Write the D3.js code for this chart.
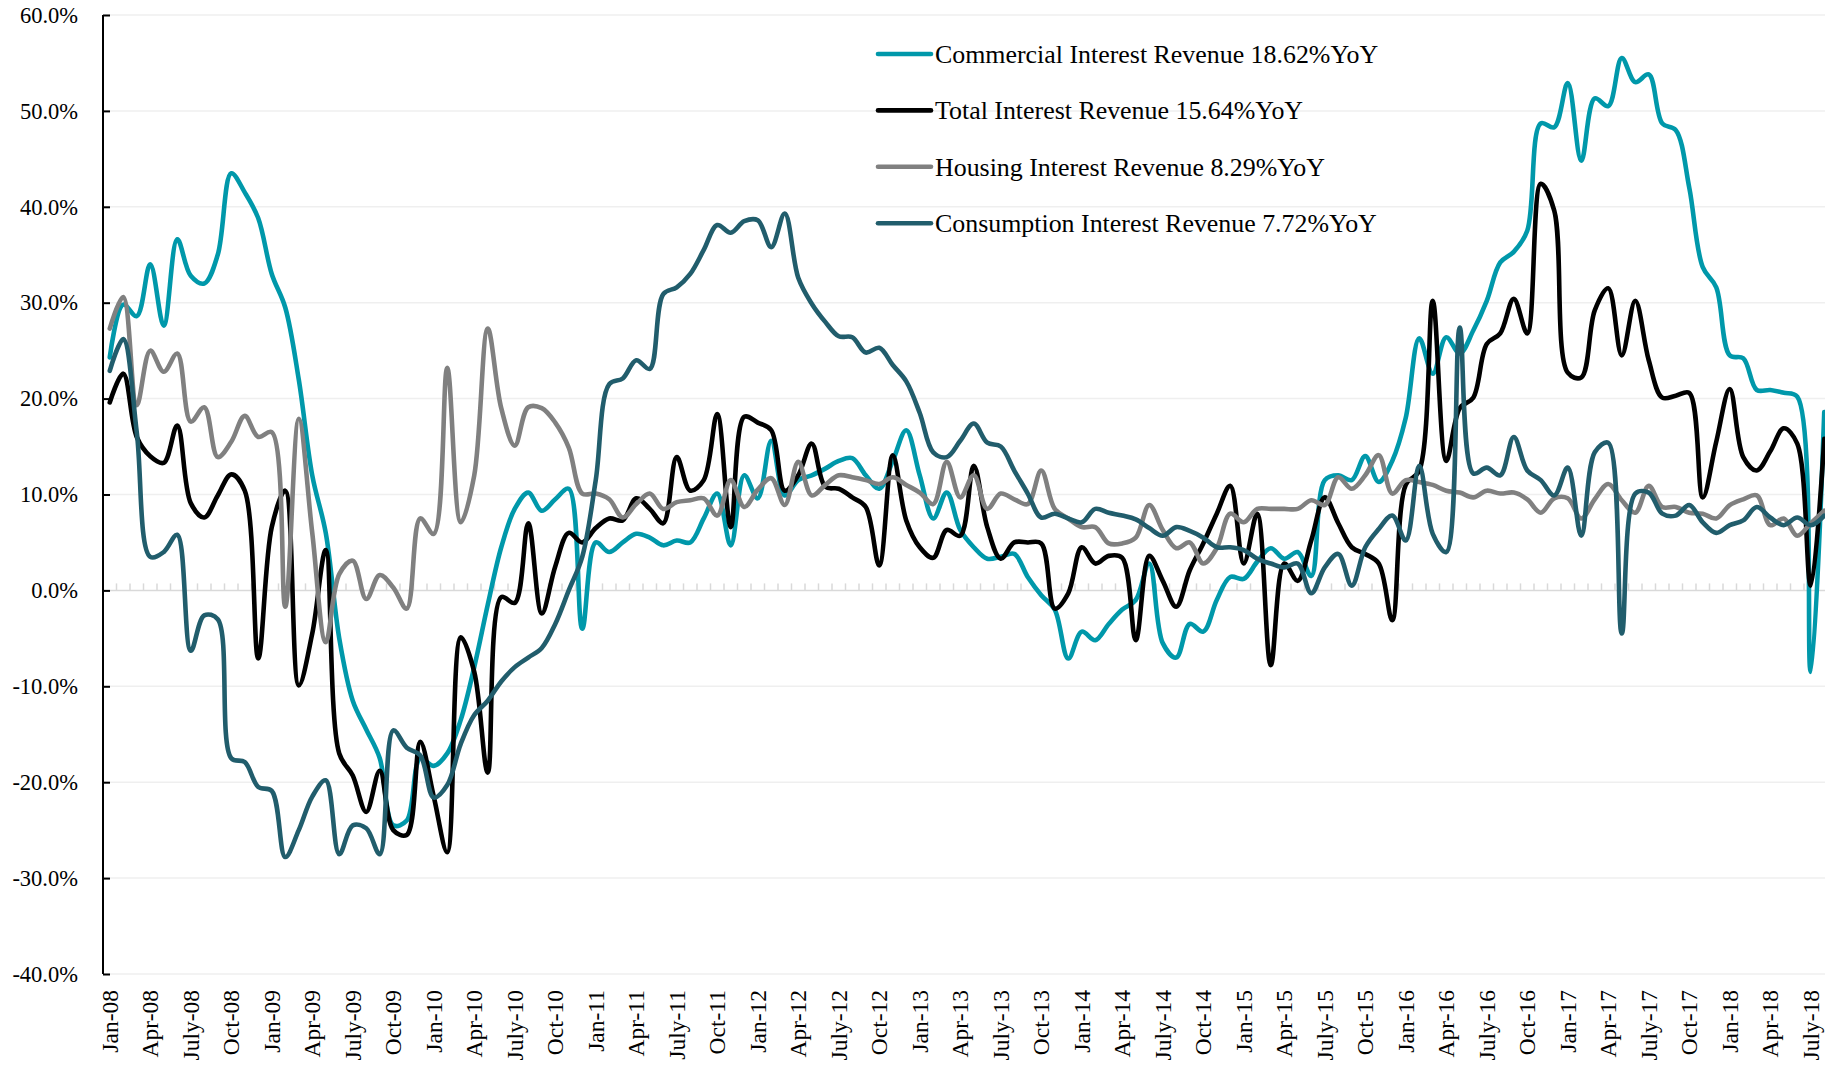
<!DOCTYPE html>
<meta charset='utf-8'>
<style>
body { margin: 0; background: #fff; }
svg text { font-family: 'Palatino Linotype', 'Book Antiqua', Palatino, 'Liberation Serif', serif; fill: #000; }
.grid line { stroke: #efefef; stroke-width: 1.5; }
.series path { fill: none; stroke-width: 4.6; stroke-linejoin: round; stroke-linecap: round; }
</style>
<script src='https://cdn.jsdelivr.net/npm/d3@7/dist/d3.min.js'></script>
<body>
<script>
'use strict'

// Data - monthly YoY growth, Jan-08 .. Aug-18 (in %)

let monthNames = ['Jan', 'Feb', 'Mar', 'Apr', 'May', 'June', 'July', 'Aug', 'Sep', 'Oct', 'Nov', 'Dec'],
	years = ['08', '09', '10', '11', '12', '13', '14', '15', '16', '17', '18'],
	lastMonth = 7, // Aug-18
	yTicks = [60, 50, 40, 30, 20, 10, 0, -10, -20, -30, -40]

let commercial = [
	24.3, 29.8, 28.6, 34.0, 27.6, 36.6, 32.8, 32.0, 35.0, 43.5, 41.5, 38.8,
	33.0, 29.5, 22.0, 12.0, 6.0, -5.0, -11.5, -14.5, -17.5, -24.5, -24.0, -17.5,
	-18.3, -17.0, -13.5, -8.0, -1.5, 4.5, 8.5, 10.2, 8.3, 9.5, 10.6, -4.0,
	5.0, 4.0, 5.0, 5.9, 5.5, 4.7, 5.2, 5.0, 7.5, 10.1, 4.7, 12.0,
	9.6, 15.6, 9.9, 11.5, 12.0, 12.7, 13.5, 13.8, 12.0, 10.6, 13.5, 16.7,
	12.0, 7.5, 10.2, 6.3, 4.5, 3.3, 3.5, 3.8, 1.4, -0.5, -2.0, -7.1,
	-4.3, -5.2, -3.5, -2.0, -1.0, 2.8, -5.5, -7.0, -3.5, -4.3, -1.0, 1.4,
	1.2, 3.0, 4.4, 3.3, 4.0, 1.5, 11.5, 12.0, 11.5, 14.0, 11.3, 13.5,
	18.0, 26.3, 22.6, 26.4, 24.7, 27.1, 30.2, 34.2, 35.3, 37.5, 48.7, 48.3,
	52.9, 44.8, 51.3, 50.5, 55.5, 53.0, 53.8, 48.7, 48.0, 42.0, 33.7, 31.6,
	24.5, 24.2, 20.9, 20.9, 20.6, 20.2, -8.5, 18.6]

let total = [
	19.6, 22.6, 16.0, 14.0, 13.3, 17.2, 9.1, 7.6, 9.9, 12.1, 10.4, -7.1,
	6.6, 10.4, -9.9, -4.5, 4.2, -17.0, -19.3, -23.1, -18.8, -25.0, -25.5, -15.8,
	-21.5, -27.3, -4.9, -8.5, -19.0, -0.7, -1.3, 7.0, -2.4, 2.5, 6.0, 5.0,
	6.5, 7.5, 7.3, 9.6, 8.5, 7.0, 13.9, 10.4, 11.5, 18.4, 6.6, 18.1,
	17.5, 16.7, 10.4, 12.0, 15.3, 10.8, 10.6, 9.7, 8.7, 2.6, 14.1, 7.3,
	4.5, 3.4, 6.3, 5.7, 13.0, 6.6, 3.3, 5.0, 5.0, 4.9, -1.9, -0.3,
	4.5, 2.8, 3.6, 3.4, -5.2, 3.6, 1.0, -1.7, 2.1, 4.9, 8.0, 10.9,
	2.8, 8.0, -7.8, 2.8, 1.0, 5.2, 9.7, 7.0, 4.5, 3.8, 2.8, -3.1,
	11.0, 12.5, 30.2, 13.5, 19.0, 20.1, 25.7, 26.8, 30.4, 26.8, 42.4, 39.6,
	22.7, 22.2, 29.2, 31.5, 24.5, 30.2, 24.0, 20.1, 20.3, 20.6, 9.7, 15.5,
	21.0, 13.9, 12.5, 14.5, 16.9, 15.3, 0.5, 15.8]

let housing = [
	27.3, 30.6, 19.3, 25.0, 22.8, 24.7, 17.6, 19.1, 13.9, 15.5, 18.2, 16.0,
	16.5, -1.7, 17.9, 6.0, -5.4, 1.7, 3.1, -0.9, 1.6, 0.3, -1.9, 7.5,
	5.9, 23.2, 7.1, 12.0, 27.3, 19.0, 15.1, 19.1, 19.0, 17.5, 14.9, 10.1,
	10.1, 9.5, 7.6, 9.0, 10.1, 8.5, 9.2, 9.4, 9.6, 7.8, 11.5, 8.7,
	10.5, 11.7, 8.9, 13.4, 9.9, 11.0, 12.0, 11.8, 11.5, 11.1, 11.8, 11.0,
	10.2, 9.0, 13.4, 9.7, 12.0, 8.5, 10.1, 9.5, 9.0, 12.5, 8.5, 7.5,
	6.6, 6.6, 4.9, 4.9, 5.5, 8.9, 6.3, 4.4, 5.0, 2.8, 4.4, 8.0,
	7.1, 8.5, 8.5, 8.5, 8.5, 9.4, 8.9, 11.8, 10.6, 12.0, 14.1, 10.1,
	11.5, 11.3, 11.0, 10.4, 10.2, 9.7, 10.4, 10.1, 10.2, 9.5, 8.1, 9.6,
	9.6, 7.5, 9.5, 11.1, 9.4, 8.1, 10.9, 8.7, 8.7, 8.1, 8.0, 7.5,
	8.9, 9.5, 9.9, 6.8, 7.5, 5.7, 7.0, 8.3]

let consumption = [
	22.9, 26.2, 16.5, 3.5, 4.0, 5.8, -6.3, -2.6, -3.0, -17.5, -17.9, -20.5,
	-20.9, -27.8, -25.0, -21.5, -19.8, -27.5, -24.5, -24.8, -27.5, -14.6, -16.4, -17.2,
	-21.6, -20.3, -16.0, -13.0, -11.5, -9.5, -8.0, -7.0, -6.0, -3.5, 0.0, 3.5,
	11.5, 21.5, 22.1, 24.0, 23.1, 30.9, 31.6, 33.0, 35.5, 38.1, 37.3, 38.5,
	38.6, 35.8, 39.3, 32.6, 29.9, 28.0, 26.5, 26.4, 24.8, 25.3, 23.5, 21.8,
	18.5, 14.4, 13.9, 15.6, 17.4, 15.4, 15.0, 12.5, 10.1, 7.6, 8.0, 7.5,
	7.1, 8.5, 8.1, 7.8, 7.4, 6.5, 5.7, 6.6, 6.2, 5.5, 4.5, 4.5,
	4.2, 3.3, 2.8, 2.4, 2.8, -0.3, 2.4, 3.8, 0.5, 4.5, 6.4, 7.8,
	5.2, 13.0, 5.9, 4.0, 27.4, 12.2, 12.8, 12.0, 16.0, 12.5, 11.5, 9.9,
	12.8, 5.7, 14.4, 15.4, -4.5, 10.1, 10.2, 8.0, 7.8, 8.9, 7.1, 6.0,
	6.8, 7.3, 8.7, 7.6, 6.8, 7.6, 6.8, 7.8]

let seriesNames = [
	'Commercial Interest Revenue 18.62%YoY',
	'Total Interest Revenue 15.64%YoY',
	'Housing Interest Revenue 8.29%YoY',
	'Consumption Interest Revenue 7.72%YoY'],
	seriesColors = ['#0098aa', '#000000', '#808080', '#215d6c']

let months = years.flatMap(yr => monthNames.map(m => `${m}-${yr}`))
months = months.slice(0, months.length - (11 - lastMonth))

let series = [commercial, total, housing, consumption].map((values, i) =>
	({name: seriesNames[i], color: seriesColors[i], values}))


// Layout

let W = 1825, H = 1066,
	plot = {left: 103, top: 15, bottom: 974, step: 13.5}

let svg = d3.select('body').append('svg')
	.attr('width', W).attr('height', H)
	.style('display', 'block')

let x = d3.scaleBand(months, [plot.left, plot.left + months.length * plot.step]),
	y = d3.scaleLinear([-40, 60], [plot.bottom, plot.top]),
	xc = d => x(d) + x.bandwidth() / 2

// Gridlines
svg.append('g').attr('class', 'grid')
	.selectAll('line').data(yTicks.filter(v => v !== 0)).join('line')
		.attr('x1', plot.left).attr('x2', W)
		.attr('y1', d => y(d)).attr('y2', d => y(d))

// Horizontal category axis sits at 0 with small month ticks
let zero = svg.append('g').attr('stroke', '#d9d9d9').attr('stroke-width', 1.5)
zero.append('line')
	.attr('x1', plot.left).attr('x2', W)
	.attr('y1', y(0)).attr('y2', y(0))
zero.selectAll('.mt').data(d3.range(months.length + 1)).join('line')
	.attr('class', 'mt')
	.attr('x1', i => plot.left + i * plot.step).attr('x2', i => plot.left + i * plot.step)
	.attr('y1', y(0)).attr('y2', y(0) - 7)

// Y axis
svg.append('g')
	.attr('transform', `translate(${plot.left},0)`)
	.call(d3.axisLeft(y).tickValues(yTicks).tickSize(-7).tickPadding(25)
		.tickFormat(d => d.toFixed(1) + '%'))
	.call(g => g.select('.domain').attr('stroke', '#000').attr('stroke-width', 2)
		.attr('d', `M0,${plot.top}V${plot.bottom}`))
	.call(g => g.selectAll('.tick line').attr('stroke', '#000').attr('stroke-width', 2))
	.call(g => g.selectAll('.tick text')
		.attr('font-family', null).attr('font-size', 22.5).attr('fill', '#000'))

// X labels, every 3rd month, rotated
svg.append('g').selectAll('text')
	.data(months.filter((m, i) => i % 3 === 0)).join('text')
		.attr('transform', d => `translate(${xc(d)},990) rotate(-90)`)
		.attr('dy', '0.33em')
		.attr('text-anchor', 'end')
		.attr('font-size', 23.5)
		.text(d => d)

// Lines
let line = (vals) => d3.line()
	.x((v, i) => xc(months[i]))
	.y(v => y(v))
	.curve(d3.curveCatmullRom)(vals)

svg.append('g').attr('class', 'series')
	.selectAll('path').data(series).join('path')
		.attr('stroke', d => d.color)
		.attr('d', d => line(d.values))

// Legend
let legend = svg.append('g').attr('transform', 'translate(878,54)')
	.selectAll('g').data(series).join('g')
		.attr('transform', (d, i) => `translate(0,${i * 56.4})`)
legend.append('line')
	.attr('x1', 0).attr('x2', 53)
	.attr('stroke', d => d.color).attr('stroke-width', 4.6)
	.attr('stroke-linecap', 'round')
legend.append('text')
	.attr('x', 57).attr('y', 8.7)
	.attr('font-size', 25.9)
	.text(d => d.name)
</script>
